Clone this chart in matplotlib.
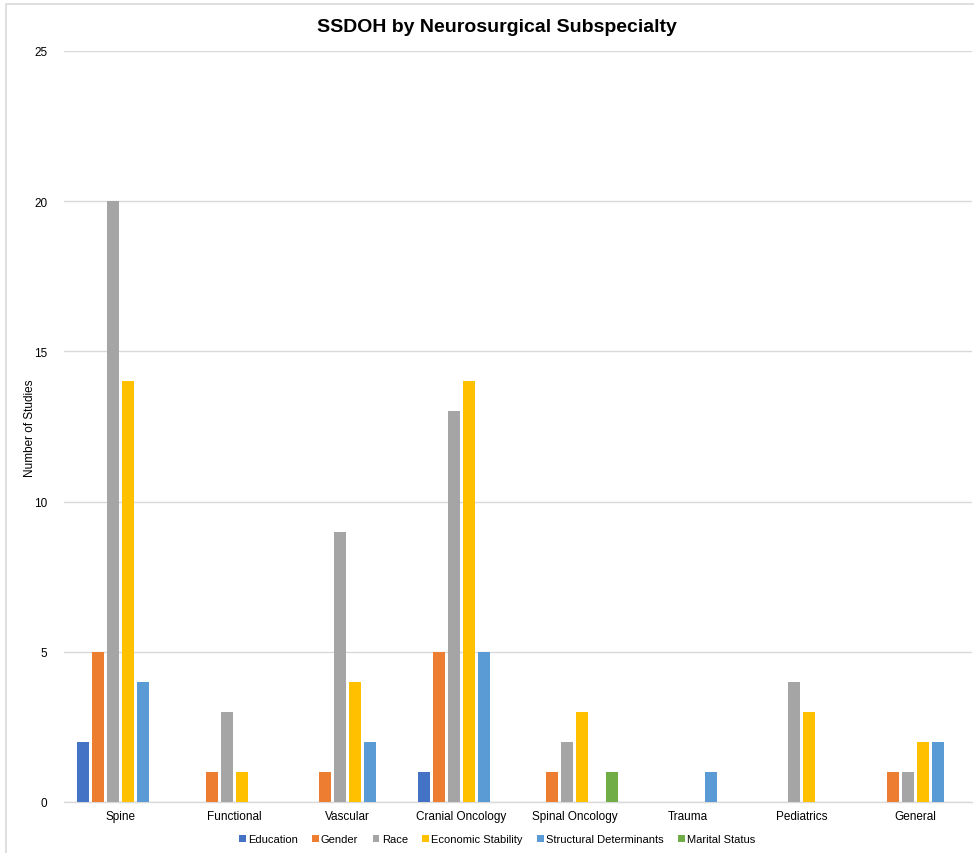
import numpy as np
import matplotlib.pyplot as plt
from matplotlib.patches import Rectangle

categories = ["Spine", "Functional", "Vascular", "Cranial Oncology",
              "Spinal Oncology", "Trauma", "Pediatrics", "General"]
series = ["Education", "Gender", "Race", "Economic Stability",
          "Structural Determinants", "Marital Status"]
education = [2, 0, 0, 1, 0, 0, 0, 0]
gender = [5, 1, 1, 5, 1, 0, 0, 1]
race = [20, 3, 9, 13, 2, 0, 4, 1]
economic = [14, 1, 4, 14, 3, 0, 3, 2]
structural = [4, 0, 2, 5, 0, 1, 0, 2]
marital = [0, 0, 0, 0, 1, 0, 0, 0]
values = [education, gender, race, economic, structural, marital]
colors = ["#4472C4", "#ED7D31", "#A5A5A5", "#FFC000", "#5B9BD5", "#70AD47"]

plt.rcParams['font.family'] = ['Liberation Sans', 'DejaVu Sans']

fig = plt.figure(figsize=(9.74, 8.54), dpi=100)
ax = fig.add_axes([64 / 974, 51 / 854, 908 / 974, 751 / 854])

# light frame around the chart like the original export
fig.patches.append(Rectangle((6 / 974, -0.1), 1.1, (854 - 5) / 854 + 0.1,
                             transform=fig.transFigure, fill=False,
                             edgecolor="#d9d9d9", linewidth=1.2))

x = np.arange(len(categories))
step = 0.132
width = 0.106
for i, (name, vals) in enumerate(zip(series, values)):
    offs = (i - 2.5) * step
    ax.bar(x + offs, vals, width, color=colors[i], label=name, zorder=3)

ax.set_xlim(-0.5, len(categories) - 0.5)
ax.set_ylim(0, 25)
ax.set_yticks([0, 5, 10, 15, 20, 25])
ax.set_xticks(x)
ax.set_xticklabels(categories, fontsize=8.5)
ax.tick_params(axis='y', labelsize=8.5, length=0, pad=12)
ax.tick_params(axis='x', length=0, pad=6)
ax.grid(axis='y', color="#d9d9d9", linewidth=1, zorder=0)
for s in ["top", "right", "left"]:
    ax.spines[s].set_visible(False)
ax.spines["bottom"].set_color("#d9d9d9")
ax.spines["bottom"].set_linewidth(1)

fig.text(30 / 974, 1 - 428 / 854, "Number of Studies", rotation=90,
         ha='center', va='center', fontsize=8.5)
fig.text(497 / 974, 1 - 27 / 854, "SSDOH by Neurosurgical Subspecialty",
         ha='center', va='center', fontsize=14, fontweight='bold')

fig.legend(loc='center', bbox_to_anchor=(497 / 974, 1 - 840 / 854), ncol=6,
           frameon=False, fontsize=8, handlelength=0.6, handleheight=0.6,
           handletextpad=0.2, columnspacing=1.3)

fig.savefig("out.png", dpi=100)
